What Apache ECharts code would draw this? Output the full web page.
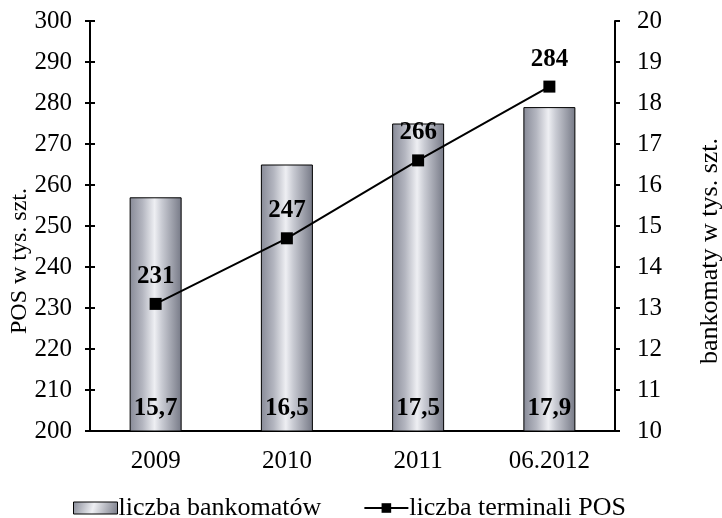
<!DOCTYPE html>
<html><head><meta charset="utf-8">
<script src="https://cdn.jsdelivr.net/npm/echarts@6/dist/echarts.min.js"></script>
<style>html,body{margin:0;padding:0;background:#fff}#c{width:722px;height:518px}</style>
</head><body><div id="c"></div>
<script>
var categories = ['2009', '2010', '2011', '06.2012'];
var bankomaty = [15.7, 16.5, 17.5, 17.9];
var terminalePOS = [231, 247, 266, 284];
var leftTicks = {min: 200, max: 300, interval: 10};
var rightTicks = {min: 10, max: 20, interval: 1};

var F = '"Liberation Serif", "Times New Roman", serif';
var chart = echarts.init(document.getElementById('c'), null, {renderer: 'canvas'});
function barGrad() {
  return new echarts.graphic.LinearGradient(0, 0, 1, 0, [
    {offset: 0, color: '#878a97'},
    {offset: 0.25, color: '#b4b6c0'},
    {offset: 0.48, color: '#eeeff3'},
    {offset: 0.62, color: '#c9cbd3'},
    {offset: 1, color: '#767986'}
  ]);
}
var legendGrad = new echarts.graphic.LinearGradient(0, 0, 1, 1, [
  {offset: 0, color: '#878a97'},
  {offset: 0.45, color: '#eeeff3'},
  {offset: 1, color: '#767986'}
]);
chart.setOption({
  animation: false,
  textStyle: {fontFamily: F, color: '#000'},
  grid: {left: 90, right: 107, top: 21, bottom: 87},
  legend: {
    left: 73, top: 495, padding: 0, itemWidth: 44, itemHeight: 12, itemGap: 42,
    textStyle: {fontFamily: F, fontSize: 26, color: '#000', padding: [0, 0, 0, -4]},
    data: [
      {name: 'liczba bankomatów', icon: 'rect', itemStyle: {color: legendGrad, borderColor: '#000', borderWidth: 1}},
      {name: 'liczba terminali POS'}
    ]
  },
  xAxis: {
    type: 'category', data: categories,
    axisLine: {lineStyle: {color: '#000', width: 2}},
    axisTick: {show: false},
    axisLabel: {fontFamily: F, fontSize: 25, color: '#000', margin: 18}
  },
  yAxis: [
    {
      type: 'value', position: 'left', min: leftTicks.min, max: leftTicks.max, interval: leftTicks.interval,
      axisLine: {show: true, lineStyle: {color: '#000', width: 2}},
      axisTick: {show: true, length: 5, lineStyle: {color: '#000', width: 2}},
      splitLine: {show: false},
      axisLabel: {fontFamily: F, fontSize: 25, color: '#000', margin: 18}
    },
    {
      type: 'value', position: 'right', min: rightTicks.min, max: rightTicks.max, interval: rightTicks.interval,
      axisLine: {show: true, lineStyle: {color: '#000', width: 2}},
      axisTick: {show: true, length: 5, lineStyle: {color: '#000', width: 2}},
      splitLine: {show: false},
      axisLabel: {fontFamily: F, fontSize: 25, color: '#000', margin: 22}
    },
    {
      type: 'value', position: 'left', min: leftTicks.min, max: leftTicks.max, interval: leftTicks.interval,
      axisLine: {show: false},
      axisTick: {show: true, inside: true, length: 5, lineStyle: {color: '#000', width: 2}},
      splitLine: {show: false},
      axisLabel: {show: false}
    }
  ],
  graphic: [
    {type: 'text', rotation: Math.PI / 2, x: 8, y: 334,
     style: {text: 'POS w tys. szt.', font: '24px ' + F, fill: '#000'}},
    {type: 'text', rotation: Math.PI / 2, x: 697, y: 364,
     style: {text: 'bankomaty w tys. szt.', font: '26px ' + F, fill: '#000'}}
  ],
  series: [
    {
      name: 'liczba bankomatów', type: 'bar', yAxisIndex: 1, barWidth: 52,
      data: bankomaty.map(function (v) { return {value: v, itemStyle: {color: barGrad()}}; }),
      itemStyle: {color: '#b4b6c0', borderColor: '#000', borderWidth: 1},
      label: {show: true, position: 'insideBottom', distance: 10, fontFamily: F, fontSize: 25, fontWeight: 'bold', color: '#000',
              formatter: function (p) { return String(p.value).replace('.', ','); }},
      z: 2
    },
    {
      name: 'liczba terminali POS', type: 'line', yAxisIndex: 0, data: terminalePOS,
      symbol: 'rect', symbolSize: 12,
      lineStyle: {color: '#000', width: 2}, itemStyle: {color: '#000'},
      label: {show: true, position: 'top', distance: 9, fontFamily: F, fontSize: 25, fontWeight: 'bold', color: '#000'},
      z: 5
    }
  ]
});
</script></body></html>
